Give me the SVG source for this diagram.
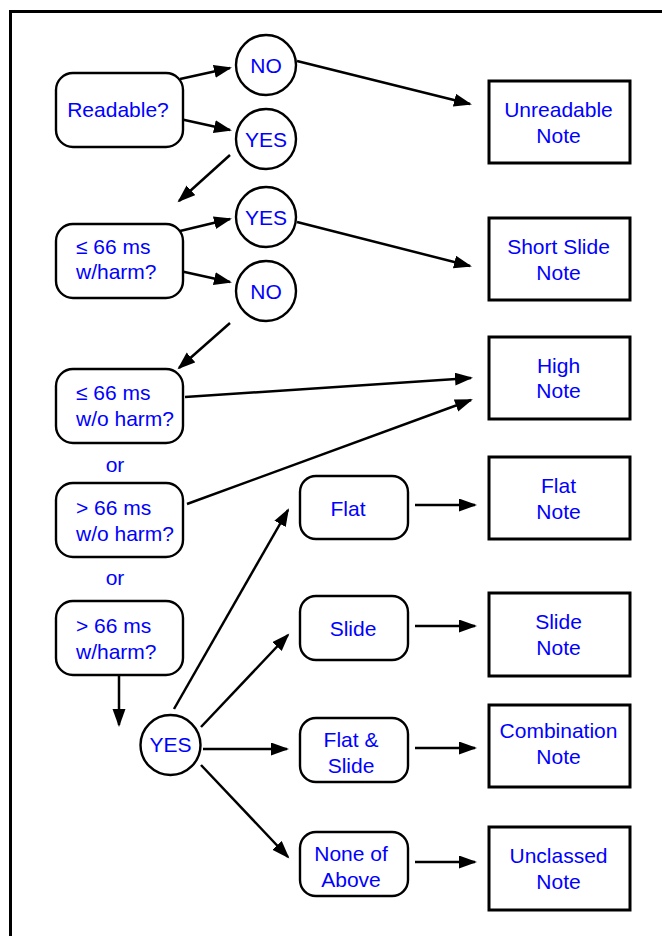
<svg xmlns="http://www.w3.org/2000/svg" width="662" height="936" viewBox="0 0 662 936">
<style>
.t{font-family:"Liberation Sans",Arial,sans-serif;font-size:21px;fill:#0000ff;text-anchor:middle}
.l{text-anchor:start}
.rb{fill:#fff;stroke:#000;stroke-width:2.4}
.sq{fill:#fff;stroke:#000;stroke-width:3}
.c{fill:#fff;stroke:#000;stroke-width:2.4}
.e{stroke:#000;stroke-width:2.5;fill:none;marker-end:url(#ah)}
</style>
<defs>
<marker id="ah" markerUnits="userSpaceOnUse" markerWidth="20" markerHeight="14" refX="16" refY="6.5" orient="auto">
<path d="M0,0 L18,6.5 L0,13 z" fill="#000"/>
</marker>
</defs>
<rect x="10.5" y="11.5" width="700" height="1000" fill="#fff" stroke="#000" stroke-width="3"/>
<g id="connectors">
<line class="e" x1="180" y1="79" x2="230" y2="68"/>
<line class="e" x1="180" y1="119" x2="230" y2="130"/>
<line class="e" x1="230" y1="155" x2="179" y2="201"/>
<line class="e" x1="297" y1="61" x2="470" y2="104"/>
<line class="e" x1="180" y1="231" x2="230" y2="219"/>
<line class="e" x1="180" y1="271" x2="230" y2="282"/>
<line class="e" x1="297" y1="222" x2="470" y2="266"/>
<line class="e" x1="230" y1="323" x2="179" y2="368"/>
<line class="e" x1="185" y1="397" x2="471" y2="378"/>
<line class="e" x1="187" y1="504" x2="471" y2="400"/>
<line class="e" x1="119" y1="674" x2="119" y2="725"/>
<line class="e" x1="174" y1="709" x2="288" y2="510"/>
<line class="e" x1="201" y1="727" x2="288" y2="635"/>
<line class="e" x1="203" y1="749" x2="287" y2="749"/>
<line class="e" x1="201" y1="765" x2="288" y2="857"/>
<line class="e" x1="415" y1="505" x2="475" y2="505"/>
<line class="e" x1="415" y1="626" x2="475" y2="626"/>
<line class="e" x1="415" y1="748" x2="475" y2="748"/>
<line class="e" x1="415" y1="862" x2="475" y2="862"/>
</g>
<g id="readable"><rect class="rb" x="56" y="73" width="127" height="74" rx="17"/><text class="t" x="118" y="117">Readable?</text></g>
<g id="no1"><circle class="c" cx="266" cy="65" r="30"/><text class="t" x="266" y="72.5">NO</text></g>
<g id="yes1"><circle class="c" cx="266" cy="139" r="30"/><text class="t" x="266" y="146.5">YES</text></g>
<g id="unreadable"><rect class="sq" x="489" y="81" width="141" height="82"/><text class="t" x="558.5" y="117">Unreadable</text><text class="t" x="558.5" y="143">Note</text></g>
<g id="le66harm"><rect class="rb" x="56" y="224" width="127" height="74" rx="17"/><text class="t l" x="76" y="254">≤ 66 ms</text><text class="t l" x="76" y="279">w/harm?</text></g>
<g id="yes2"><circle class="c" cx="266" cy="217" r="30"/><text class="t" x="266" y="224.5">YES</text></g>
<g id="no2"><circle class="c" cx="266" cy="291" r="30"/><text class="t" x="266" y="298.5">NO</text></g>
<g id="shortslide"><rect class="sq" x="489" y="218" width="141" height="82"/><text class="t" x="558.5" y="254">Short Slide</text><text class="t" x="558.5" y="280">Note</text></g>
<g id="le66noharm"><rect class="rb" x="56" y="369" width="127" height="74" rx="17"/><text class="t l" x="76" y="400">≤ 66 ms</text><text class="t l" x="76" y="426">w/o harm?</text></g>
<g id="high"><rect class="sq" x="489" y="337" width="141" height="82"/><text class="t" x="558.5" y="373">High</text><text class="t" x="558.5" y="398">Note</text></g>
<text class="t" x="115" y="472">or</text>
<g id="gt66noharm"><rect class="rb" x="56" y="483" width="127" height="74" rx="17"/><text class="t l" x="76" y="514.5">&gt; 66 ms</text><text class="t l" x="76" y="540.5">w/o harm?</text></g>
<text class="t" x="115" y="585">or</text>
<g id="gt66harm"><rect class="rb" x="56" y="601" width="127" height="74" rx="17"/><text class="t l" x="76" y="632.5">&gt; 66 ms</text><text class="t l" x="76" y="658.5">w/harm?</text></g>
<g id="yes3"><circle class="c" cx="170.5" cy="745" r="30"/><text class="t" x="170.5" y="752">YES</text></g>
<g id="flat"><rect class="rb" x="300" y="476" width="108" height="63" rx="16"/><text class="t" x="348" y="515.5">Flat</text></g>
<g id="flatnote"><rect class="sq" x="489" y="457" width="141" height="82"/><text class="t" x="558.5" y="493">Flat</text><text class="t" x="558.5" y="518.5">Note</text></g>
<g id="slide"><rect class="rb" x="300" y="596" width="108" height="64" rx="16"/><text class="t" x="353" y="636">Slide</text></g>
<g id="slidenote"><rect class="sq" x="489" y="593" width="141" height="83"/><text class="t" x="558.5" y="629">Slide</text><text class="t" x="558.5" y="655">Note</text></g>
<g id="flatslide"><rect class="rb" x="300" y="718" width="108" height="64" rx="16"/><text class="t" x="351" y="747">Flat &amp;</text><text class="t" x="351" y="773">Slide</text></g>
<g id="combination"><rect class="sq" x="489" y="705" width="141" height="82"/><text class="t" x="558.5" y="738">Combination</text><text class="t" x="558.5" y="764">Note</text></g>
<g id="none"><rect class="rb" x="300" y="832" width="108" height="64" rx="16"/><text class="t" x="351" y="861">None of</text><text class="t" x="351" y="887">Above</text></g>
<g id="unclassed"><rect class="sq" x="489" y="827" width="141" height="83"/><text class="t" x="558.5" y="863">Unclassed</text><text class="t" x="558.5" y="889">Note</text></g>
</svg>
